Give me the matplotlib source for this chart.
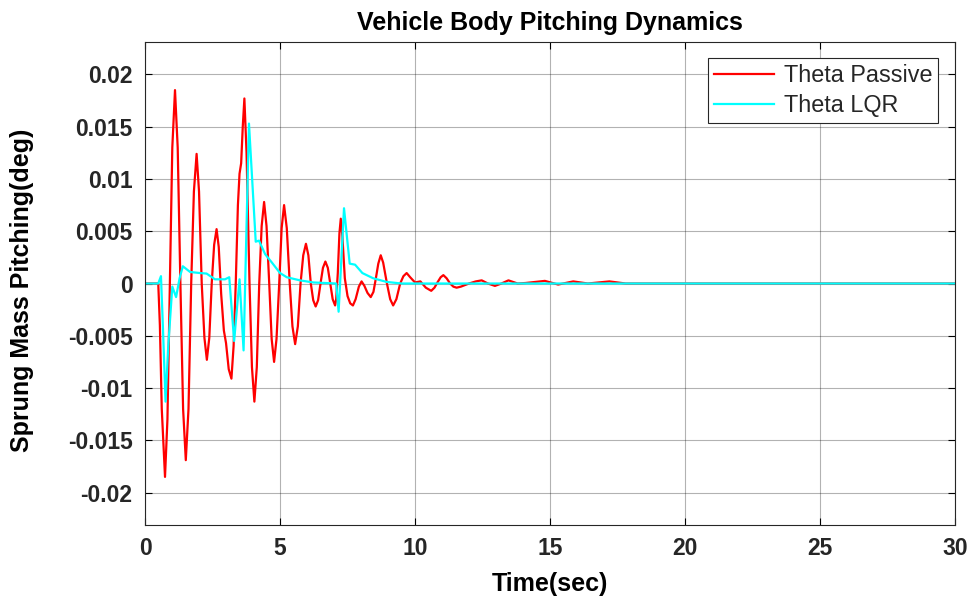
import matplotlib
matplotlib.use("Agg")
import matplotlib.pyplot as plt

plt.rcParams['font.family'] = ['Liberation Sans', 'DejaVu Sans']
plt.rcParams['axes.unicode_minus'] = False

# Theta Passive (red)
passive_t = [0, 0.49, 0.55, 0.62, 0.74, 0.83, 0.92, 1.01, 1.11, 1.21, 1.31, 1.41, 1.51,
             1.61, 1.71, 1.81, 1.91, 2.00, 2.10, 2.20, 2.29, 2.38, 2.47, 2.56, 2.65, 2.73,
             2.82, 2.92, 3.00, 3.10, 3.20, 3.28, 3.36, 3.44, 3.50, 3.56, 3.62, 3.68, 3.76,
             3.87, 3.96, 4.05, 4.14, 4.23, 4.32, 4.41, 4.50, 4.60, 4.69, 4.78, 4.87, 4.97,
             5.06, 5.15, 5.25, 5.36, 5.46, 5.56, 5.66, 5.76, 5.86, 5.96, 6.05, 6.14, 6.23,
             6.32, 6.41, 6.50, 6.59, 6.68, 6.77, 6.86, 6.95, 7.04, 7.08, 7.14, 7.20, 7.25,
             7.31, 7.40, 7.50, 7.60, 7.70, 7.80, 7.92, 8.02, 8.12, 8.24, 8.36, 8.46, 8.55,
             8.64, 8.73, 8.82, 8.96, 9.08, 9.19, 9.31, 9.45, 9.57, 9.69, 9.82, 10.0, 10.2,
             10.4, 10.6, 10.72, 10.83, 10.95, 11.05, 11.17, 11.3, 11.42, 11.54, 11.7, 12.0,
             12.25, 12.47, 12.7, 12.96, 13.2, 13.46, 13.8, 14.1, 14.81, 15.3, 15.86, 16.4,
             17.2, 17.8, 30]
passive_y = [0, 0, -0.004, -0.012, -0.0185, -0.013, 0, 0.013, 0.0185, 0.013, 0, -0.012, -0.0169,
             -0.012, 0, 0.0088, 0.0124, 0.0088, 0, -0.0052, -0.0073, -0.0052, 0, 0.0037, 0.0052, 0.0035,
             -0.0010, -0.0045, -0.0057, -0.0082, -0.0091, -0.0060, 0.0, 0.0075, 0.0105, 0.0115, 0.0150, 0.0177, 0.0125,
             0, -0.0080, -0.0113, -0.0080, 0, 0.0055, 0.0078, 0.0055, 0, -0.0053, -0.0075, -0.0053, 0,
             0.0053, 0.0075, 0.0053, 0, -0.0041, -0.0058, -0.0041, 0, 0.0027, 0.0038, 0.0027, 0, -0.0016,
             -0.0022, -0.0016, 0, 0.0015, 0.0021, 0.0015, 0, -0.0015, -0.0021, -0.0015, 0.0010, 0.0048, 0.0062,
             0.0045, 0.0005, -0.0012, -0.0019, -0.0021, -0.0015, -0.0003, 0.0002, -0.0002, -0.0009, -0.0013, -0.0008, 0.0005,
             0.0019, 0.0027, 0.0020, 0, -0.0015, -0.0021, -0.0015, 0, 0.0007, 0.0010, 0.0006, 0.0001, 0.0002,
             -0.0004, -0.0007, -0.0004, 0.0001, 0.0006, 0.0008, 0.0005, 0, -0.0003, -0.0004, -0.0003, 0.0,
             0.0002, 0.0003, 0, -0.00023, 0, 0.0003, 0, 0.00005, 0.00025, -0.0001, 0.0002, 0,
             0.0002, 0, 0]

# Theta LQR (cyan)
lqr_t = [0, 0.49, 0.59, 0.66, 0.76, 0.86, 1.01, 1.15, 1.28, 1.40, 1.67, 2.04, 2.28, 2.59,
         2.96, 3.12, 3.30, 3.50, 3.65, 3.85, 4.10, 4.22, 4.45, 4.70, 5.0, 5.25, 5.74, 6.23,
         7.08, 7.17, 7.37, 7.58, 7.78, 8.05, 8.45, 8.95, 9.5, 30]
lqr_y = [0, 0, 0.0007, -0.004, -0.0113, -0.006, -0.0003, -0.0013, 0.0005, 0.00165, 0.0011,
         0.0010, 0.00095, 0.0004, 0.0004, 0.0006, -0.0055, 0.0004, -0.0064, 0.0153, 0.0040,
         0.0041, 0.0028, 0.0020, 0.0010, 0.0006, 0.0003, 0.0001, 0.0, -0.0027, 0.0072, 0.0019,
         0.0018, 0.0010, 0.0005, 0.00015, 0, 0]

xticks = [0, 5, 10, 15, 20, 25, 30]
yticks = [-0.02, -0.015, -0.01, -0.005, 0, 0.005, 0.01, 0.015, 0.02]
ytick_labels = ['-0.02', '-0.015', '-0.01', '-0.005', '0', '0.005', '0.01', '0.015', '0.02']

fig = plt.figure(figsize=(9.74, 6.03), dpi=100)
ax = fig.add_axes([0.1489, 0.1294, 0.8316, 0.8009])

ax.plot(passive_t, passive_y, color='#ff0000', lw=1.6, label='Theta Passive')
ax.plot(lqr_t, lqr_y, color='#00ffff', lw=1.6, label='Theta LQR')

ax.set_xlim(0, 30)
ax.set_ylim(-0.0231, 0.0231)
ax.set_xticks(xticks)
ax.set_xticklabels([str(v) for v in xticks])
ax.set_yticks(yticks)
ax.set_yticklabels(ytick_labels)
ax.tick_params(direction='in', top=True, right=True, length=5, width=0.8,
               labelsize=16.5)
ax.tick_params(axis='y', pad=9)
ax.tick_params(axis='x', pad=9)
for lab in ax.get_xticklabels() + ax.get_yticklabels():
    lab.set_fontweight('bold')
    lab.set_color('#262626')
ax.grid(True, color='black', alpha=0.3, lw=0.8)
for s in ax.spines.values():
    s.set_color('#262626')
    s.set_linewidth(0.8)

ax.set_title('Vehicle Body Pitching Dynamics', fontsize=18, fontweight='bold', pad=9)
ax.set_xlabel('Time(sec)', fontsize=18, fontweight='bold', labelpad=8)
ax.set_ylabel('Sprung Mass Pitching(deg)', fontsize=18, fontweight='bold')
ax.yaxis.set_label_coords(-0.137, 0.485)

leg = ax.legend(loc='upper right', bbox_to_anchor=(0.979, 0.967), fontsize=16.8,
                fancybox=False, edgecolor='#262626', framealpha=1, handlelength=2.6,
                handletextpad=0.4, borderaxespad=0, borderpad=0.25, labelspacing=0.33)
leg.get_frame().set_linewidth(0.8)
for t in leg.get_texts():
    t.set_color('#262626')

fig.savefig('out.png', dpi=100, facecolor='white')
